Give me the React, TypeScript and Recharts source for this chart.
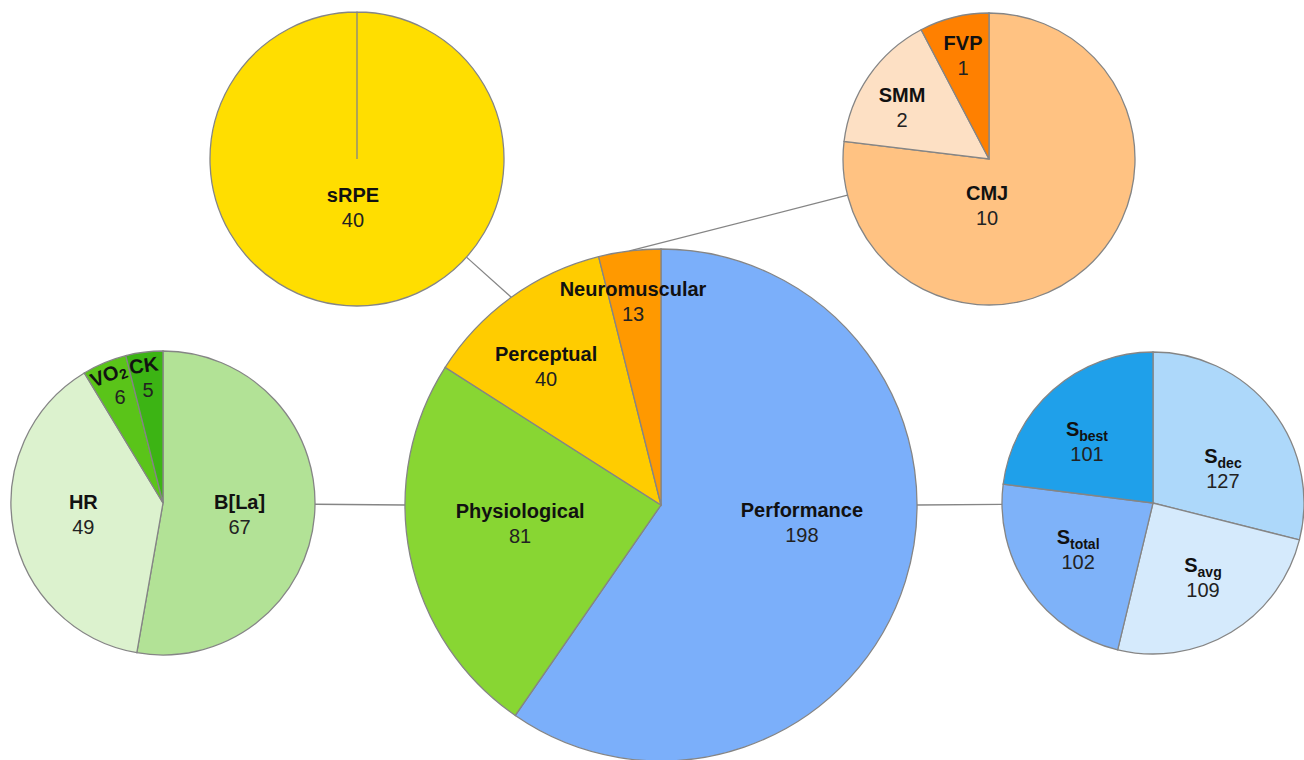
import { PieChart, Pie, Cell } from 'recharts'

// main pie
const mainCategories = ['Performance', 'Physiological', 'Perceptual', 'Neuromuscular']
const mainValues = [198, 81, 40, 13]

// breakdowns
const perceptualCategories = ['sRPE']
const perceptualValues = [40]

const neuroCategories = ['CMJ', 'SMM', 'FVP']
const neuroValues = [10, 2, 1]

const physioCategories = ['B[La]', 'HR', 'VO_2', 'CK']
const physioValues = [67, 49, 6, 5]

const perfCategories = ['S_dec', 'S_avg', 'S_total', 'S_best']
const perfValues = [127, 109, 102, 101]

const MAIN_COLORS = ['#7BAFFA', '#88D633', '#FFCC00', '#FF9900']
const PERCEPTUAL_COLORS = ['#FFDE00']
const NEURO_COLORS = ['#FFC282', '#FDE0C4', '#FF8000']
const PHYSIO_COLORS = ['#B2E296', '#DCF2CE', '#5AC419', '#3CB414']
const PERF_COLORS = ['#ADD8FA', '#D5EAFC', '#7EB2F9', '#1FA0EA']

const STROKE = '#858585'
const FONT = '"Liberation Sans", Arial, sans-serif'
const RAD = Math.PI / 180

// pie placement
const MAIN = { cx: 661, cy: 505, r: 256 }
const PERCEPTUAL = { cx: 357, cy: 159, r: 147 }
const NEURO = { cx: 989, cy: 159, r: 146 }
const PHYSIO = { cx: 163, cy: 503, r: 152 }
const PERF = { cx: 1153, cy: 503, r: 151 }

// label placement: [radius fraction, clockwise shift from mid angle, name rotation]
const MAIN_LABELS = [[0.555, -9.9], [0.555, 3.9], [0.7, -4.1], [0.8, -0.8]]
const PERCEPTUAL_LABELS = [[0.335, 4.7]]
const NEURO_LABELS = [[0.32, 43.9], [0.69, -4.2], [0.727, -0.3]]
const PHYSIO_LABELS = [[0.51, 3.9], [0.53, 2.1], [0.826, 2.7, -22], [0.828, 0.3, -8]]
const PERF_LABELS = [[0.515, 12], [0.597, -2.5], [0.586, 2.5], [0.595, -5.9]]

const toRows = (names: string[], values: number[]) =>
  names.map((name, i) => ({ name, value: values[i] }))

// mid angle of slice i, degrees clockwise from 12 o'clock
function midAngleCw(values: number[], i: number) {
  const total = values.reduce((a, b) => a + b, 0)
  const before = values.slice(0, i).reduce((a, b) => a + b, 0)
  return ((before + values[i] / 2) / total) * 360
}

function pointCw(c: { cx: number; cy: number }, r: number, deg: number) {
  return { x: c.cx + r * Math.sin(deg * RAD), y: c.cy - r * Math.cos(deg * RAD) }
}

function connector(anchorDeg: number, sub: { cx: number; cy: number; r: number }) {
  const a = pointCw(MAIN, MAIN.r, anchorDeg)
  const dx = sub.cx - a.x
  const dy = sub.cy - a.y
  const d = Math.hypot(dx, dy)
  const t = (d - sub.r) / d
  return { x1: a.x, y1: a.y, x2: a.x + dx * t, y2: a.y + dy * t }
}

function makeLabel(pos: number[][], subDy: number) {
  return (props: any) => {
    const { cx, cy, midAngle, outerRadius, index, value } = props
    const name = String(props.payload?.name ?? props.name)
    const [frac, shift, rot = 0] = pos[index]
    const a = (midAngle - shift) * RAD
    const x = cx + outerRadius * frac * Math.cos(-a)
    const y = cy + outerRadius * frac * Math.sin(-a)
    const [base, sub] = name.split('_')
    return (
      <g key={`label-${index}`} fontFamily={FONT}>
        <text
          x={x}
          y={y - 6}
          textAnchor="middle"
          fontWeight="bold"
          fontSize={20}
          fill="#111"
          transform={rot ? `rotate(${rot} ${x} ${y + 19})` : undefined}
        >
          {base}
          {sub && (
            <tspan dy={subDy} fontSize={14}>
              {sub}
            </tspan>
          )}
        </text>
        <text x={x} y={y + 19} textAnchor="middle" fontSize={20} fill="#222">
          {value}
        </text>
      </g>
    )
  }
}

function SubPie({
  rows,
  colors,
  place,
  labels,
  subDy = 5,
}: {
  rows: { name: string; value: number }[]
  colors: string[]
  place: { cx: number; cy: number; r: number }
  labels: number[][]
  subDy?: number
}) {
  return (
    <Pie
      data={rows}
      dataKey="value"
      nameKey="name"
      cx={place.cx}
      cy={place.cy}
      outerRadius={place.r}
      startAngle={90}
      endAngle={-270}
      stroke={STROKE}
      strokeWidth={1.3}
      labelLine={false}
      label={makeLabel(labels, subDy)}
      isAnimationActive={false}
    >
      {rows.map((r, i) => (
        <Cell key={r.name} fill={colors[i]} />
      ))}
    </Pie>
  )
}

export default function App() {
  const lines = [
    connector(midAngleCw(mainValues, 2), PERCEPTUAL),
    connector(midAngleCw(mainValues, 3), NEURO),
    connector(270, PHYSIO),
    connector(90, PERF),
  ]

  return (
    <div style={{ position: 'absolute', left: 0, top: 0, width: 1304, height: 760, background: '#fff', overflow: 'hidden' }}>
      <svg width={1304} height={760} style={{ position: 'absolute', left: 0, top: 0 }}>
        {lines.map((l, i) => (
          <line key={i} {...l} stroke={STROKE} strokeWidth={1.3} />
        ))}
      </svg>
      <div style={{ position: 'absolute', left: 0, top: 0 }}>
        <PieChart width={1304} height={760} margin={{ top: 0, right: 0, bottom: 0, left: 0 }}>
          {SubPie({ rows: toRows(mainCategories, mainValues), colors: MAIN_COLORS, place: MAIN, labels: MAIN_LABELS })}
          {SubPie({ rows: toRows(perceptualCategories, perceptualValues), colors: PERCEPTUAL_COLORS, place: PERCEPTUAL, labels: PERCEPTUAL_LABELS })}
          {SubPie({ rows: toRows(neuroCategories, neuroValues), colors: NEURO_COLORS, place: NEURO, labels: NEURO_LABELS })}
          {SubPie({ rows: toRows(physioCategories, physioValues), colors: PHYSIO_COLORS, place: PHYSIO, labels: PHYSIO_LABELS, subDy: 3 })}
          {SubPie({ rows: toRows(perfCategories, perfValues), colors: PERF_COLORS, place: PERF, labels: PERF_LABELS })}
        </PieChart>
      </div>
    </div>
  )
}
